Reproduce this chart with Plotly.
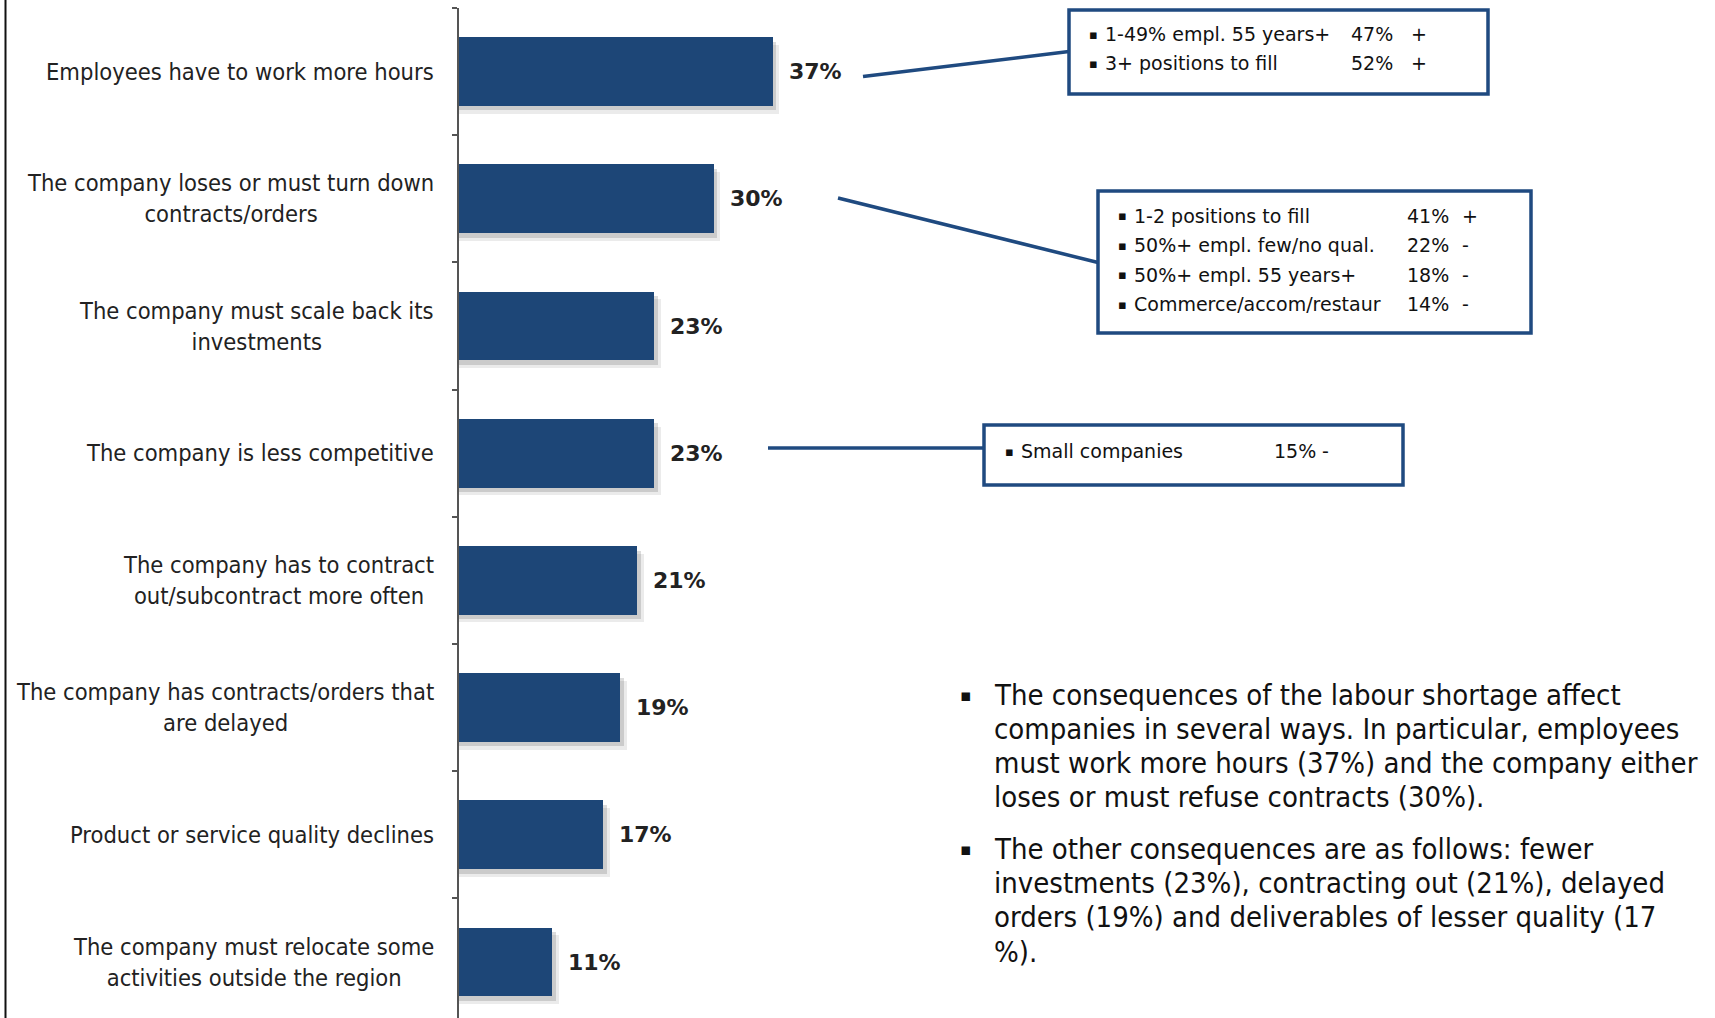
import plotly.graph_objects as go

# Consequences of the labour shortage (share of companies, %)
categories = [
    "Employees have to work more hours",
    "The company loses or must turn down<br>contracts/orders",
    "The company must scale back its<br>investments",
    "The company is less competitive",
    "The company has to contract<br>out/subcontract more often",
    "The company has contracts/orders that<br>are delayed",
    "Product or service quality declines",
    "The company must relocate some<br>activities outside the region",
]
values = [37, 30, 23, 23, 21, 19, 17, 11]

# Sub-group call-outs
box1_items = ["1-49% empl. 55 years+", "3+ positions to fill"]
box1_pcts = ["47%", "52%"]
box1_signs = ["+", "+"]

box2_items = ["1-2 positions to fill", "50%+ empl. few/no qual.",
              "50%+ empl. 55 years+", "Commerce/accom/restaur"]
box2_pcts = ["41%", "22%", "18%", "14%"]
box2_signs = ["+", "-", "-", "-"]

box3_items = ["Small companies"]
box3_pcts = ["15%"]
box3_signs = ["-"]

summary_1 = [
    "The consequences of the labour shortage affect",
    "companies in several ways. In particular, employees",
    "must work more hours (37%) and the company either",
    "loses or must refuse contracts (30%).",
]
summary_2 = [
    "The other consequences are as follows: fewer",
    "investments (23%), contracting out (21%), delayed",
    "orders (19%) and deliverables of lesser quality (17",
    "%).",
]

W, H = 1715, 1018
NAVY = "#1d4677"
BOX = "#1f4a80"
FONT = "DejaVu Sans Condensed, DejaVu Sans, sans-serif"
FONT_BOX = "DejaVu Sans, sans-serif"
BULLET = "\u25aa"


def px(x):
    return x / W


def py(y):
    return 1 - y / H


ypos = list(range(len(categories)))
BAR_W = 0.54

fig = go.Figure()

# soft drop shadow behind each bar
for dx, dy, alpha in [(0.75, 0.06, 0.10), (0.4, 0.035, 0.18)]:
    fig.add_trace(go.Bar(
        x=[v + dx for v in values], y=ypos, orientation="h",
        width=BAR_W, offset=-BAR_W / 2 + dy,
        marker=dict(color=f"rgba(60,60,60,{alpha})", line=dict(width=0)),
        hoverinfo="skip", showlegend=False,
    ))

fig.add_trace(go.Bar(
    x=values, y=ypos, orientation="h",
    width=BAR_W, offset=-BAR_W / 2,
    marker=dict(color=NAVY, line=dict(width=0)),
    showlegend=False,
))

annotations = []

# category labels (right aligned block, centred lines)
for i, c in enumerate(categories):
    annotations.append(dict(
        x=px(436), xref="paper", y=i, yref="y",
        text=c, showarrow=False, xanchor="right", yanchor="middle",
        align="center", font=dict(family=FONT, size=23.5, color="#222222"),
    ))

# value labels
for i, v in enumerate(values):
    annotations.append(dict(
        x=v, xref="x", y=i, yref="y", text=f"<b>{v}%</b>",
        showarrow=False, xanchor="left", yanchor="middle", xshift=14,
        font=dict(family="DejaVu Sans, sans-serif", size=22, color="#222222"),
    ))

shapes = []

# left page border
shapes.append(dict(type="line", xref="paper", yref="paper",
                   x0=px(5.5), x1=px(5.5), y0=0, y1=1,
                   line=dict(color="#111111", width=2)))


def text_at(x, y, text, font):
    annotations.append(dict(x=px(x), y=py(y), xref="paper", yref="paper",
                            text=text, showarrow=False,
                            xanchor="left", yanchor="middle", font=font))


def callout(rect, line_pts, items, pcts, signs, ys, x_bullet, x_pct, x_sign):
    x0, y0, x1, y1 = rect
    (lx0, ly0), (lx1, ly1) = line_pts
    shapes.append(dict(type="line", xref="paper", yref="paper",
                       x0=px(lx0), y0=py(ly0), x1=px(lx1), y1=py(ly1),
                       line=dict(color=BOX, width=3.5)))
    shapes.append(dict(type="rect", xref="paper", yref="paper",
                       x0=px(x0), y0=py(y0), x1=px(x1), y1=py(y1),
                       line=dict(color=BOX, width=3.5), fillcolor="white"))
    f = dict(family=FONT_BOX, size=19, color="#111111")
    fb = dict(family=FONT_BOX, size=13, color="#111111")
    for item, pct, sign, yy in zip(items, pcts, signs, ys):
        text_at(x_bullet, yy, BULLET, fb)
        text_at(x_bullet + 16, yy, item, f)
        text_at(x_pct, yy, pct, f)
        text_at(x_sign, yy, sign, f)


callout((1069, 10, 1488, 94), ((863, 76.5), (1069, 51.5)),
        box1_items, box1_pcts, box1_signs, [34, 63], 1087, 1349, 1409)
callout((1098, 191, 1531, 333), ((838, 198), (1098, 262.5)),
        box2_items, box2_pcts, box2_signs, [215.5, 245, 274.5, 304], 1116, 1405, 1460)
callout((984, 425, 1403, 485), ((768, 448), (984, 448)),
        box3_items, box3_pcts, box3_signs, [451], 1003, 1272, 1320)

# summary text, one bullet per paragraph
para_font = dict(family=FONT, size=29, color="#111111")
for lines, y_first in [(summary_1, 694.5), (summary_2, 849)]:
    text_at(958, y_first, BULLET, dict(family=FONT_BOX, size=17, color="#111111"))
    for k, ln in enumerate(lines):
        text_at(992, y_first + k * 34.2, ln, para_font)

fig.update_layout(
    width=W, height=H, autosize=False,
    margin=dict(l=0, r=0, t=0, b=0, pad=0),
    paper_bgcolor="white", plot_bgcolor="white",
    barmode="overlay", bargap=0,
    xaxis=dict(domain=[px(459), 1], range=[0, 148], visible=False, fixedrange=True),
    yaxis=dict(domain=[0, 1 - 8 / H], range=[7.44, -0.5], showgrid=False,
               zeroline=False, showline=True, linecolor="#555555", linewidth=1.5,
               tickmode="array", tickvals=[i - 0.5 for i in range(len(categories) + 1)],
               ticks="outside", ticklen=5, tickcolor="#555555", tickwidth=1.5,
               showticklabels=False, fixedrange=True),
    annotations=annotations,
    shapes=shapes,
    showlegend=False,
)

fig.write_html("out.html")
